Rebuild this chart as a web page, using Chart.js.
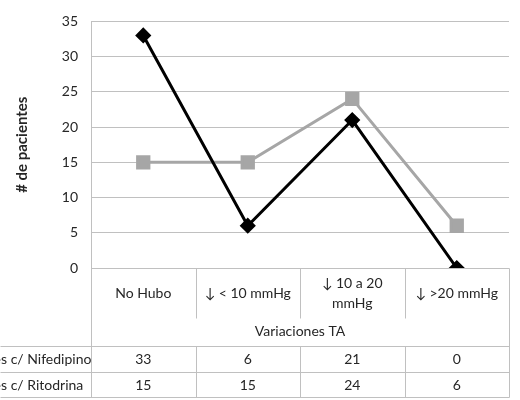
<!DOCTYPE html>
<html>
<head>
<meta charset="utf-8">
<script src="https://cdn.jsdelivr.net/npm/chart.js@4/dist/chart.umd.min.js"></script>
<style>
  html, body { margin: 0; padding: 0; background: #fff; }
  #wrap { width: 520px; height: 400px; }
</style>
</head>
<body>
<div id="wrap"><canvas id="c" width="520" height="400"></canvas></div>
<script>
// Categories (blood-pressure change) and patient counts per treatment
const categories = [['No Hubo'], ['↓ < 10 mmHg'], ['↓ 10 a 20', 'mmHg'], ['↓ >20 mmHg']];
const seriesNames = ['Pacientes c/ Nifedipino', 'Pacientes c/ Ritodrina'];
const nifedipino = [33, 6, 21, 0];
const ritodrina = [15, 15, 24, 6];
const yTicks = [0, 5, 10, 15, 20, 25, 30, 35];
const axisTitleX = 'Variaciones TA';
const axisTitleY = '# de pacientes';

const FONT = 'Lato, "Open Sans", sans-serif';
const GRID = '#c0c0c0';
const TEXT = '#262626';

// Data table drawn under the plot, aligned with the category scale
const dataTable = {
  id: 'dataTable',
  afterDraw(chart) {
    const ctx = chart.ctx;
    const ca = chart.chartArea;
    const xs = chart.scales.x;
    const n = categories.length;
    const centers = categories.map((_, i) => xs.getPixelForValue(i));
    const bounds = [ca.left];
    for (let i = 0; i < n - 1; i++) bounds.push((centers[i] + centers[i + 1]) / 2);
    bounds.push(ca.right);

    const headerH = 50, titleH = 28, rowH = 26;
    const y0 = ca.bottom;
    const y1 = y0 + headerH;
    const y2 = y1 + titleH;
    const rowsY = [y2, y2 + rowH, y2 + 2 * rowH - 1];

    ctx.save();
    ctx.strokeStyle = GRID;
    ctx.lineWidth = 1;
    const line = (xa, ya, xb, yb) => {
      ctx.beginPath();
      ctx.moveTo(Math.round(xa) + 0.5, Math.round(ya) + 0.5);
      ctx.lineTo(Math.round(xb) + 0.5, Math.round(yb) + 0.5);
      ctx.stroke();
    };
    // outer verticals
    line(ca.left, y0, ca.left, rowsY[2]);
    line(ca.right, y0, ca.right, rowsY[2]);
    // inner verticals: header and value rows
    for (let i = 1; i < n; i++) {
      line(bounds[i], y0, bounds[i], y1);
      line(bounds[i], y2, bounds[i], rowsY[2]);
    }
    // horizontals
    line(ca.left, y0, ca.right, y0);
    rowsY.forEach(y => line(0, y, ca.right, y));

    ctx.fillStyle = TEXT;
    ctx.font = '14px ' + FONT;
    ctx.textAlign = 'center';
    ctx.textBaseline = 'middle';
    // category labels
    categories.forEach((lbl, i) => {
      const lh = 20;
      const start = y0 + headerH / 2 - (lbl.length - 1) * lh / 2;
      lbl.forEach((t, k) => ctx.fillText(t, centers[i], start + k * lh));
    });
    // axis title
    ctx.fillText(axisTitleX, (ca.left + ca.right) / 2, y1 + titleH / 2 - 1);
    // values and row labels (row labels run off the left edge)
    const labelX = 1 - ctx.measureText('Paciente').width;
    [nifedipino, ritodrina].forEach((vals, r) => {
      const cy = rowsY[r] + rowH / 2;
      ctx.textAlign = 'center';
      vals.forEach((v, i) => ctx.fillText(String(v), centers[i], cy));
      ctx.textAlign = 'left';
      ctx.fillText(seriesNames[r], labelX, cy);
    });
    ctx.restore();
  }
};

new Chart(document.getElementById('c'), {
  type: 'line',
  data: {
    labels: categories.map(c => c.join(' ')),
    datasets: [
      {
        label: seriesNames[0],
        data: nifedipino,
        borderColor: '#000000',
        backgroundColor: '#000000',
        borderWidth: 3,
        pointStyle: 'rectRot',
        pointRadius: 6,
        pointHoverRadius: 6,
        tension: 0
      },
      {
        label: seriesNames[1],
        data: ritodrina,
        borderColor: '#a6a6a6',
        backgroundColor: '#a6a6a6',
        borderWidth: 3,
        pointStyle: 'rect',
        pointRadius: 8,
        pointHoverRadius: 8,
        tension: 0
      }
    ]
  },
  options: {
    responsive: false,
    animation: false,
    devicePixelRatio: 1,
    layout: { padding: { left: 0, right: 2, top: 14, bottom: 132 } },
    plugins: { legend: { display: false }, tooltip: { enabled: false } },
    scales: {
      x: { display: false, offset: true },
      y: {
        min: 0,
        max: 35,
        afterBuildTicks(scale) { scale.ticks = yTicks.map(v => ({ value: v })); },
        afterFit(scale) { scale.width = 91; },
        border: { color: GRID, width: 1 },
        grid: { color: GRID, lineWidth: 1, drawTicks: false },
        ticks: { color: TEXT, font: { family: FONT, size: 14 }, padding: 13 },
        title: {
          display: true,
          text: axisTitleY,
          color: TEXT,
          font: { family: FONT, size: 15, weight: 'bold' },
          padding: { top: 13, bottom: 0 }
        }
      }
    }
  },
  plugins: [dataTable]
});
</script>
</body>
</html>
